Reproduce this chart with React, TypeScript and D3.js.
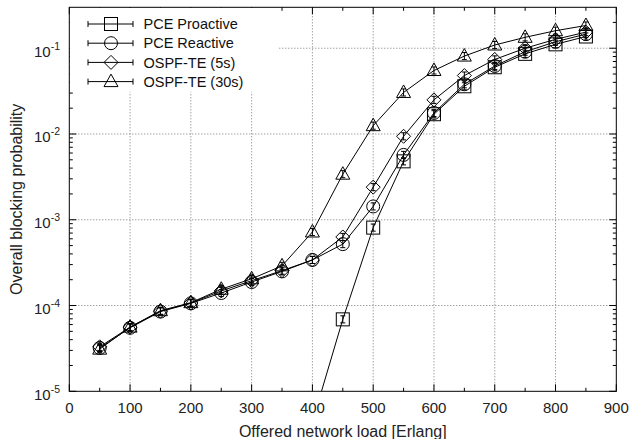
import * as d3 from "d3";

// offered load [Erlang]
const loads = [50, 100, 150, 200, 250, 300, 350, 400, 450, 500, 550, 600, 650, 700, 750, 800, 850];
const proactiveLoads = [400, 450, 500, 550, 600, 650, 700, 750, 800, 850];

// blocking probability per series
const pceProactive = [4.4e-6, 6.9e-5, 8.1e-4, 4.8e-3, 1.7e-2, 3.6e-2, 6.0e-2, 8.6e-2, 0.111, 0.137];
const pceReactive = [3.2e-5, 5.5e-5, 8.5e-5, 1.06e-4, 1.4e-4, 1.88e-4, 2.5e-4, 3.4e-4, 5.2e-4, 1.43e-3, 5.7e-3, 1.76e-2, 3.8e-2, 6.2e-2, 9.1e-2, 0.119, 0.146];
const ospf5 = [3.3e-5, 5.6e-5, 8.6e-5, 1.07e-4, 1.48e-4, 1.95e-4, 2.55e-4, 3.4e-4, 6.3e-4, 2.4e-3, 9.4e-3, 2.5e-2, 4.8e-2, 7.4e-2, 0.1, 0.127, 0.154];
const ospf30 = [3.1e-5, 5.6e-5, 8.7e-5, 1.08e-4, 1.55e-4, 2.05e-4, 2.9e-4, 7.2e-4, 3.4e-3, 1.25e-2, 3.05e-2, 5.5e-2, 8.1e-2, 0.109, 0.134, 0.16, 0.184];

const seriesNames = ["PCE Proactive", "PCE Reactive", "OSPF-TE (5s)", "OSPF-TE (30s)"];
const xTicks = [0, 100, 200, 300, 400, 500, 600, 700, 800, 900];
const yExponents = [-5, -4, -3, -2, -1];

const W = 633, H = 439;
const M = { left: 69.3, right: 616.3, top: 7.3, bottom: 391.3 };
const FONT = "'Liberation Sans', Arial, Helvetica, sans-serif";

const series = [
  { name: seriesNames[0], xs: proactiveLoads, ys: pceProactive, shape: "square" },
  { name: seriesNames[1], xs: loads, ys: pceReactive, shape: "circle" },
  { name: seriesNames[2], xs: loads, ys: ospf5, shape: "diamond" },
  { name: seriesNames[3], xs: loads, ys: ospf30, shape: "triangle" },
];

const Marker = ({ shape, x, y }: { shape: string; x: number; y: number }) => {
  const p = { fill: "none", stroke: "#000", strokeWidth: 1 };
  if (shape === "square") return <rect x={x - 6.5} y={y - 6.5} width={13} height={13} {...p} />;
  if (shape === "circle") return <circle cx={x} cy={y} r={6.5} {...p} />;
  if (shape === "diamond")
    return <path d={`M${x},${y - 7}L${x + 7},${y}L${x},${y + 7}L${x - 7},${y}Z`} {...p} />;
  return <path d={`M${x},${y - 7.5}L${x + 7},${y + 5}L${x - 7},${y + 5}Z`} {...p} />;
};

const App = () => {
  const x = d3.scaleLinear().domain([0, 900]).range([M.left, M.right]);
  const y = d3.scaleLog().domain([1e-5, 0.3]).range([M.bottom, M.top]);
  const line = d3
    .line<[number, number]>()
    .x((d) => x(d[0]))
    .y((d) => y(d[1]));

  const minorY: number[] = [];
  for (let e = -5; e <= -1; e++)
    for (let k = 2; k <= 9; k++) {
      const v = k * Math.pow(10, e);
      if (v < 0.3) minorY.push(v);
    }
  const minorX = d3.range(50, 900, 100);

  return (
    <svg width={W} height={H} style={{ position: "absolute", left: 0, top: 0 }} fontFamily={FONT}>
      <defs>
        <clipPath id="plot">
          <rect x={M.left} y={M.top} width={M.right - M.left} height={M.bottom - M.top} />
        </clipPath>
      </defs>
      <rect width={W} height={H} fill="#fff" />

      {/* grid */}
      {xTicks.slice(1, -1).map((t) => (
        <line key={"gx" + t} x1={x(t)} x2={x(t)} y1={M.top} y2={M.bottom} stroke="#777" strokeDasharray="1,2" />
      ))}
      {yExponents.slice(1).map((e) => (
        <line key={"gy" + e} x1={M.left} x2={M.right} y1={y(Math.pow(10, e))} y2={y(Math.pow(10, e))} stroke="#777" strokeDasharray="1,2" />
      ))}

      {/* ticks */}
      {xTicks.map((t) => (
        <g key={"tx" + t} stroke="#000">
          <line x1={x(t)} x2={x(t)} y1={M.bottom} y2={M.bottom - 7} />
          <line x1={x(t)} x2={x(t)} y1={M.top} y2={M.top + 7} />
        </g>
      ))}
      {minorX.map((t) => (
        <g key={"mx" + t} stroke="#000">
          <line x1={x(t)} x2={x(t)} y1={M.bottom} y2={M.bottom - 3.5} />
          <line x1={x(t)} x2={x(t)} y1={M.top} y2={M.top + 3.5} />
        </g>
      ))}
      {yExponents.map((e) => (
        <g key={"ty" + e} stroke="#000">
          <line x1={M.left} x2={M.left + 7} y1={y(Math.pow(10, e))} y2={y(Math.pow(10, e))} />
          <line x1={M.right} x2={M.right - 7} y1={y(Math.pow(10, e))} y2={y(Math.pow(10, e))} />
        </g>
      ))}
      {minorY.map((v, i) => (
        <g key={"my" + i} stroke="#000">
          <line x1={M.left} x2={M.left + 3.5} y1={y(v)} y2={y(v)} />
          <line x1={M.right} x2={M.right - 3.5} y1={y(v)} y2={y(v)} />
        </g>
      ))}

      {/* data */}
      <g clipPath="url(#plot)">
        {series.map((s) => {
          const pts = s.xs.map((xv, i) => [xv, s.ys[i]] as [number, number]);
          return (
            <g key={s.name}>
              <path d={line(pts) || ""} fill="none" stroke="#000" strokeWidth={1} />
              {pts.map((d, i) => {
                const cx = x(d[0]);
                const lo = y(d[1] / 1.1);
                const hi = y(d[1] * 1.1);
                return (
                  <g key={i}>
                    <line x1={cx} x2={cx} y1={lo} y2={hi} stroke="#000" />
                    <line x1={cx - 2.5} x2={cx + 2.5} y1={lo} y2={lo} stroke="#000" />
                    <line x1={cx - 2.5} x2={cx + 2.5} y1={hi} y2={hi} stroke="#000" />
                    <Marker shape={s.shape} x={cx} y={y(d[1])} />
                  </g>
                );
              })}
            </g>
          );
        })}
      </g>

      {/* legend */}
      <rect x={M.left + 0.5} y={M.top + 0.5} width={208} height={84} fill="#fff" />
      {series.map((s, i) => {
        const ly = 24 + i * 19.2;
        return (
          <g key={"lg" + i}>
            <line x1={88} x2={133} y1={ly} y2={ly} stroke="#000" />
            <line x1={88} x2={88} y1={ly - 3} y2={ly + 3} stroke="#000" />
            <line x1={133} x2={133} y1={ly - 3} y2={ly + 3} stroke="#000" />
            <Marker shape={s.shape} x={111} y={ly} />
            <text x={143.5} y={ly + 5.2} fontSize={14.5} fill="#111">
              {s.name}
            </text>
          </g>
        );
      })}

      {/* frame */}
      <rect x={M.left} y={M.top} width={M.right - M.left} height={M.bottom - M.top} fill="none" stroke="#000" />

      {/* tick labels */}
      {xTicks.map((t) => (
        <text key={"lx" + t} x={x(t)} y={412.5} textAnchor="middle" fontSize={15} fill="#222">
          {t}
        </text>
      ))}
      {yExponents.map((e) => (
        <text key={"ly" + e} x={60} y={y(Math.pow(10, e)) + 8.5} textAnchor="end" fontSize={15} fill="#222">
          10
          <tspan fontSize={10.5} dy={-7}>
            {e}
          </tspan>
        </text>
      ))}

      {/* axis titles */}
      <text x={(M.left + M.right) / 2} y={436.5} textAnchor="middle" fontSize={16} fill="#222">
        Offered network load [Erlang]
      </text>
      <text transform={`translate(22,${(M.top + M.bottom) / 2}) rotate(-90)`} textAnchor="middle" fontSize={16} fill="#222">
        Overall blocking probability
      </text>
    </svg>
  );
};

export default App;
